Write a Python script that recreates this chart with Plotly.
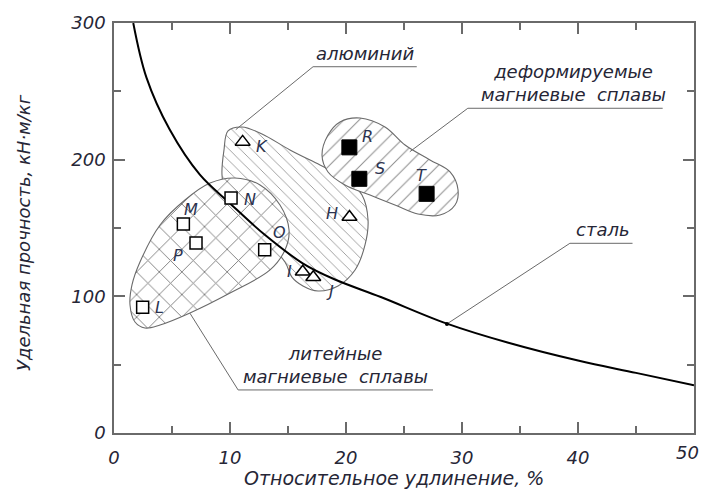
import plotly.graph_objects as go

# ---------------- data ----------------
# steel curve
steel_x = [1.66, 2.8, 4.8, 7.4, 10.0, 13.0, 16.3, 19.0, 23.0, 28.7, 34.0, 40.0, 45.0, 50.0]
steel_y = [300, 260, 222, 189, 168, 145, 124, 112.5, 99.5, 80, 66, 53, 44, 35]

# cast magnesium alloys (open squares)
cast_names = ["L", "M", "P", "N", "O"]
cast_x = [2.47, 5.98, 7.07, 10.09, 12.99]
cast_y = [92, 153, 139, 172, 134]

# aluminium (open triangles)
al_names = ["K", "H", "I", "J"]
al_x = [11.09, 20.3, 16.27, 17.18]
al_y = [213, 158, 118, 114]

# wrought magnesium alloys (filled squares)
wr_names = ["R", "S", "T"]
wr_x = [20.29, 21.15, 26.95]
wr_y = [209, 186, 175]

# label offsets (px) for point letters
cast_dx = [17, 8, -18, 19, 15]
cast_dy = [0, 14, -12, -2, 17]
al_dx = [19, -17, -13, 17]
al_dy = [-5, 4, 0, -14]
wr_dx = [18, 21, -5]
wr_dy = [11, 10, 18]

# region outlines
cast_reg_x = [1.38, 1.55, 2.24, 3.97, 6.12, 8.28, 10.43, 12.59, 14.31, 15.09, 14.74, 13.45, 10.0, 6.55, 3.97, 2.67, 1.81, 1.38]
cast_reg_y = [93.7, 108.3, 125.1, 152.2, 170.5, 182.9, 186.6, 181.5, 166.8, 148.5, 133.9, 119.3, 102.4, 87.8, 79.0, 76.8, 81.2, 93.7]

al_reg_x = [9.48, 9.31, 9.66, 10.86, 14.74, 15.34, 16.29, 17.59, 19.31, 20.78, 21.64, 21.9, 21.38, 19.91, 17.76, 15.17, 12.76, 11.03, 9.83, 9.48]
al_reg_y = [207, 188.8, 174.1, 161.7, 125.1, 114.1, 107.6, 103.9, 107.6, 119.3, 137.6, 155.8, 174.1, 186.6, 196.1, 207.1, 218.8, 223.9, 221, 207]

wr_reg_x = [17.93, 18.45, 19.48, 21.21, 23.36, 25.09, 27.24, 28.97, 29.66, 29.4, 28.1, 26.2, 24.22, 22.07, 19.91, 18.45, 17.93]
wr_reg_y = [203.4, 218, 227.6, 230.5, 223.9, 210.7, 199.8, 191, 177.8, 166.8, 159.5, 160.2, 166.8, 174.1, 181.5, 191, 203.4]

# leader lines (blob point -> underline start -> underline end)
al_lead_x = [10.5, 17.16, 26.1]
al_lead_y = [222, 268, 268]
wr_lead_x = [25.5, 30.5, 47.3]
wr_lead_y = [205.8, 237.6, 237.6]
st_lead_x = [28.7, 39.3, 44.7]
st_lead_y = [79.8, 138.8, 138.8]
ca_lead_x = [6.55, 10.7, 27.5]
ca_lead_y = [87.6, 31.5, 31.5]

# axis ticks
x_tick_vals = [0, 10, 20, 30, 40, 50]
x_tick_text = ["0", "10", "20", "30", "40", "50"]
y_tick_vals = [0, 100, 200, 300]
y_tick_text = ["0", "100", "200", "300"]

# callout texts
al_text = "алюминий"
wr_text = "деформируемые<br>магниевые  сплавы"
st_text = "сталь"
ca_text = "литейные<br>магниевые  сплавы"

x_title = "Относительное удлинение, %"
y_title = "Удельная прочность, кН·м/кг"

# ---------------- styling ----------------
FONT = "DejaVu Sans, sans-serif"
TXT = "#262636"
GRAY = "#6a6a6a"

fig = go.Figure()

# region blobs (aluminium under, wrought, cast on top)
fig.add_trace(go.Scatter(
    x=al_reg_x, y=al_reg_y, mode="lines", fill="toself", line=dict(color=GRAY, width=1.1, shape="spline", smoothing=1.0),
    fillcolor="white",
    fillpattern=dict(shape="\\", size=8, solidity=0.1, fgcolor="#8c8c8c", bgcolor="white", fillmode="replace"),
    hoverinfo="skip", showlegend=False))
fig.add_trace(go.Scatter(
    x=wr_reg_x, y=wr_reg_y, mode="lines", fill="toself", line=dict(color=GRAY, width=1.1, shape="spline", smoothing=1.0),
    fillcolor="white",
    fillpattern=dict(shape="/", size=11, solidity=0.09, fgcolor="#8c8c8c", bgcolor="white", fillmode="replace"),
    hoverinfo="skip", showlegend=False))
fig.add_trace(go.Scatter(
    x=cast_reg_x, y=cast_reg_y, mode="lines", fill="toself", line=dict(color=GRAY, width=1.1, shape="spline", smoothing=1.0),
    fillcolor="white",
    fillpattern=dict(shape="x", size=16, solidity=0.11, fgcolor="#7a7a7a", bgcolor="white", fillmode="replace"),
    hoverinfo="skip", showlegend=False))

# leader lines
for lx, ly in [(al_lead_x, al_lead_y), (wr_lead_x, wr_lead_y), (st_lead_x, st_lead_y), (ca_lead_x, ca_lead_y)]:
    fig.add_trace(go.Scatter(x=lx, y=ly, mode="lines", line=dict(color=GRAY, width=1),
                             hoverinfo="skip", showlegend=False))

# steel curve
fig.add_trace(go.Scatter(x=steel_x, y=steel_y, mode="lines",
                         line=dict(color="black", width=2, shape="spline", smoothing=1.0),
                         hoverinfo="skip", showlegend=False))
fig.add_trace(go.Scatter(x=[st_lead_x[0]], y=[st_lead_y[0]], mode="markers",
                         marker=dict(color="black", size=4), hoverinfo="skip", showlegend=False))

# points
fig.add_trace(go.Scatter(x=cast_x, y=cast_y, mode="markers",
                         marker=dict(symbol="square", size=12, color="white", line=dict(color="black", width=1.5)),
                         showlegend=False))
fig.add_trace(go.Scatter(x=al_x, y=al_y, mode="markers",
                         marker=dict(symbol="triangle-up", size=13, color="white", line=dict(color="black", width=1.5)),
                         showlegend=False))
fig.add_trace(go.Scatter(x=wr_x, y=wr_y, mode="markers",
                         marker=dict(symbol="square", size=15, color="black", line=dict(color="black", width=1)),
                         showlegend=False))

lbl_font = dict(family=FONT, size=16, color="#2c3350", style="italic")
for names, xs, ys, dxs, dys in [(cast_names, cast_x, cast_y, cast_dx, cast_dy),
                                (al_names, al_x, al_y, al_dx, al_dy),
                                (wr_names, wr_x, wr_y, wr_dx, wr_dy)]:
    for n, x, y, dx, dy in zip(names, xs, ys, dxs, dys):
        fig.add_annotation(x=x, y=y, text=n, showarrow=False, xshift=dx, yshift=dy, font=lbl_font)

call_font = dict(family=FONT, size=18, color=TXT, style="italic")
fig.add_annotation(x=(al_lead_x[1] + al_lead_x[2]) / 2, y=al_lead_y[1], text=al_text, showarrow=False,
                   yanchor="bottom", yshift=1, font=call_font)
fig.add_annotation(x=(wr_lead_x[1] + wr_lead_x[2]) / 2, y=wr_lead_y[1], text=wr_text, showarrow=False,
                   yanchor="bottom", yshift=1, xshift=8, font=call_font)
fig.add_annotation(x=(st_lead_x[1] + st_lead_x[2]) / 2, y=st_lead_y[1], text=st_text, showarrow=False,
                   yanchor="bottom", yshift=1, xshift=2, font=call_font)
fig.add_annotation(x=(ca_lead_x[1] + ca_lead_x[2]) / 2, y=ca_lead_y[1], text=ca_text, showarrow=False,
                   yanchor="bottom", yshift=1, font=call_font)

# axis titles
fig.add_annotation(xref="paper", yref="paper", x=0.483, y=-0.11, text=x_title, showarrow=False,
                   xanchor="center", yanchor="middle",
                   font=dict(family=FONT, size=19, color=TXT, style="italic"))
fig.add_annotation(xref="paper", yref="paper", x=-0.155, y=0.488, text=y_title, showarrow=False,
                   textangle=-90, xanchor="center", yanchor="middle",
                   font=dict(family=FONT, size=18, color=TXT, style="italic"))

tick_font = dict(family=FONT, size=18, color=TXT, style="italic")
# last x tick label drawn as a right-anchored text so it stays inside the page
fig.add_annotation(x=x_tick_vals[-1], y=0, yref="y", xref="x", text=x_tick_text[-1], showarrow=False,
                   xanchor="right", yanchor="top", xshift=7, yshift=-7, font=tick_font)

axis_common = dict(showline=True, linecolor=GRAY, linewidth=1.5, mirror="ticks", ticks="inside",
                   tickcolor=GRAY, tickwidth=1.5, ticklen=11, showgrid=False, zeroline=False,
                   tickfont=tick_font, automargin=False, tickmode="array")
fig.update_xaxes(range=[0, 50], tickvals=x_tick_vals, ticktext=x_tick_text[:-1] + [""], ticklabelstandoff=8,
                 minor=dict(dtick=5, tick0=0, ticks="inside", ticklen=7, tickcolor=GRAY, tickwidth=1.5),
                 **axis_common)
fig.update_yaxes(range=[0, 300], tickvals=y_tick_vals, ticktext=y_tick_text, ticklabelstandoff=3,
                 minor=dict(dtick=50, tick0=0, ticks="inside", ticklen=7, tickcolor=GRAY, tickwidth=1.5),
                 **axis_common)

fig.update_layout(width=699, height=487, margin=dict(l=106, r=13, t=15, b=62),
                  plot_bgcolor="white", paper_bgcolor="white", showlegend=False)

fig.write_html("out.html")
